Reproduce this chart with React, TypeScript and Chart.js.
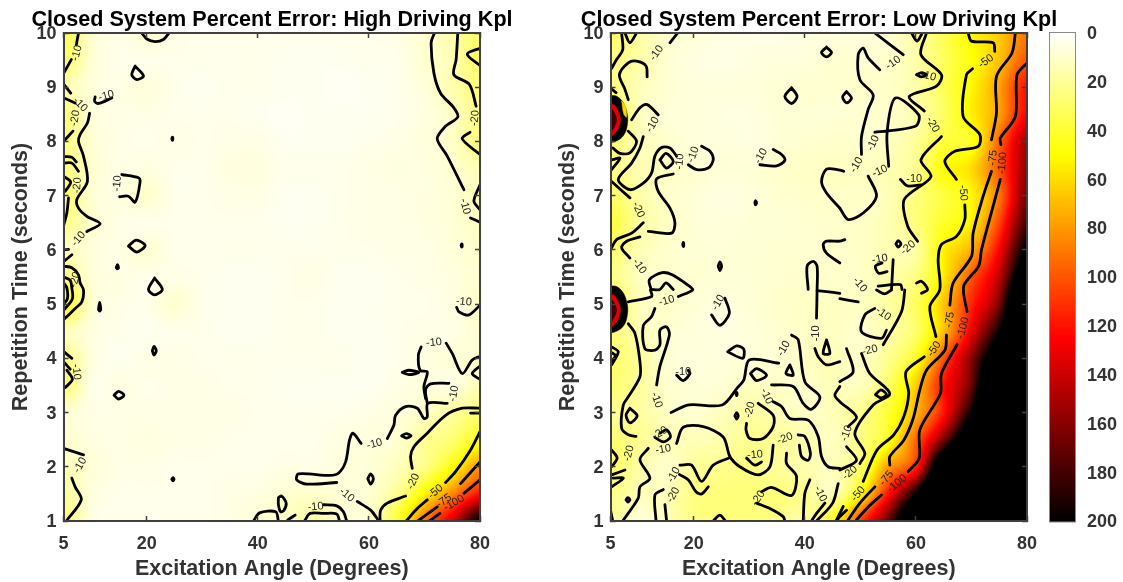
import React, { useEffect, useRef } from "react";
import { Chart, registerables } from "chart.js";
Chart.register(...registerables);

type Path = number[][];

const angleTicks = [5, 20, 40, 60, 80];
const timeTicks = [1, 2, 3, 4, 5, 6, 7, 8, 9, 10];
const barTicks = [0, 20, 40, 60, 80, 100, 120, 140, 160, 180, 200];
const gridAngles = [5, 10, 15, 20, 25, 30, 35, 40, 45, 50, 55, 60, 65, 70, 75, 80];
const gridTimes = [10, 9.5, 9, 8.5, 8, 7.5, 7, 6.5, 6, 5.5, 5, 4.5, 4, 3.5, 3, 2.5, 2, 1.5, 1];

const highGrid = [
  [35, 9, 5, 9, 5, 4, 4, 4, 4, 4, 4, 4, 5, 9, 17, 30],
  [30, 9, 4, 4, 4, 4, 4, 4, 3, 3, 3, 4, 4, 9, 15, 30],
  [16, 7, 5, 7, 4, 3, 4, 4, 3, 3, 2, 3, 4, 7, 16, 26],
  [28, 8, 5, 5, 4, 4, 4, 3, 2, 3, 3, 3, 4, 6, 11, 24],
  [25, 9, 5, 4, 5, 4, 5, 5, 3, 3, 3, 4, 5, 7, 11, 25],
  [25, 10, 5, 6, 4, 4, 6, 6, 4, 4, 4, 5, 6, 6, 9, 14],
  [30, 9, 6, 10, 4, 4, 5, 5, 3, 3, 4, 5, 5, 6, 8, 14],
  [24, 10, 5, 4, 4, 4, 4, 4, 3, 3, 4, 5, 5, 6, 8, 12],
  [14, 7, 5, 9, 4, 4, 4, 4, 4, 4, 4, 4, 5, 5, 7, 10],
  [28, 8, 6, 4, 5, 4, 3, 3, 4, 5, 3, 3, 4, 5, 6, 9],
  [45, 10, 5, 4, 9, 4, 3, 3, 4, 4, 3, 3, 4, 4, 6, 11],
  [14, 6, 4, 3, 4, 4, 3, 3, 4, 4, 3, 3, 4, 5, 5, 9],
  [25, 7, 3, 5, 5, 4, 4, 4, 4, 4, 4, 3, 4, 6, 8, 9],
  [28, 5, 6, 4, 5, 5, 4, 4, 3, 3, 3, 3, 5, 7, 6, 14],
  [9, 5, 5, 5, 5, 5, 5, 4, 4, 4, 4, 5, 7, 11, 19, 28],
  [10, 6, 5, 6, 5, 5, 4, 4, 4, 4, 6, 7, 9, 21, 28, 45],
  [14, 8, 5, 5, 4, 4, 4, 4, 5, 5, 7, 8, 13, 24, 48, 80],
  [20, 7, 4, 4, 4, 4, 5, 6, 9, 10, 8, 9, 22, 52, 85, 120],
  [28, 6, 4, 4, 4, 4, 5, 9, 12, 18, 10, 10, 40, 90, 135, 200],
];

const lowGrid = [
  [30, 18, 10, 8, 6, 5, 5, 6, 7, 7, 9, 18, 33, 52, 65, 90],
  [25, 18, 9, 6, 5, 6, 7, 7, 9, 9, 10, 17, 32, 48, 68, 100],
  [25, 14, 9, 7, 7, 7, 8, 9, 9, 10, 11, 17, 33, 52, 78, 120],
  [40, 14, 8, 7, 6, 6, 8, 8, 8, 9, 10, 16, 31, 54, 78, 125],
  [28, 15, 10, 7, 7, 6, 8, 9, 10, 10, 12, 20, 38, 44, 95, 150],
  [25, 15, 12, 9, 8, 8, 10, 11, 12, 12, 15, 22, 49, 60, 100, 155],
  [30, 18, 10, 8, 6, 7, 9, 10, 11, 11, 14, 25, 38, 52, 90, 165],
  [38, 20, 12, 8, 7, 8, 8, 9, 10, 11, 15, 26, 42, 55, 105, 180],
  [30, 15, 10, 8, 8, 8, 9, 9, 10, 11, 15, 18, 53, 74, 125, 205],
  [25, 12, 10, 9, 8, 8, 9, 10, 10, 11, 17, 25, 55, 100, 145, 240],
  [40, 14, 11, 8, 7, 8, 10, 11, 12, 12, 18, 32, 67, 115, 165, 300],
  [28, 15, 9, 7, 6, 7, 9, 11, 12, 10, 17, 30, 68, 130, 200, 300],
  [30, 20, 9, 7, 7, 8, 9, 12, 14, 11, 22, 44, 100, 160, 240, 300],
  [28, 20, 10, 8, 8, 12, 11, 10, 14, 13, 30, 65, 120, 170, 300, 300],
  [22, 19, 12, 9, 13, 18, 14, 12, 14, 22, 40, 72, 120, 200, 300, 300],
  [28, 22, 15, 14, 16, 22, 20, 16, 12, 24, 45, 95, 165, 250, 300, 300],
  [32, 18, 10, 20, 22, 24, 20, 16, 14, 30, 78, 115, 250, 300, 300, 300],
  [24, 15, 14, 24, 26, 26, 26, 22, 14, 50, 120, 200, 300, 300, 300, 300],
  [22, 8, 14, 24, 26, 26, 24, 18, 45, 105, 170, 260, 300, 300, 300, 300],
];

// contour traces, [excitation angle, repetition time]
const highContours10: Path[] = [
  [[7.7,10],[7.3,9.78]], [[6.4,9.51],[5.1,9.27]],
  [[19.1,10],[20,9.89],[21.5,9.84],[23,9.88],[24,10]],
  [[17.9,9.39],[19.4,9.21],[18.2,9.14],[17.3,9.23],[17.9,9.39]],
  [[5.1,9.05],[6.3,8.89]], [[5.1,8.8],[7.1,8.71]],
  [[10.7,8.82],[10.6,8.74],[11.3,8.7],[13.7,8.8]],
  [[9.7,8.52],[9.3,8.34],[8,8.13],[7.7,8],[8.6,7.73],[9.3,7.26],[7.4,6.93],[7.7,6.77],[9.2,6.62],[11.6,6.48],[9.2,6.34]],
  [[15.5,7.39],[18.5,7.33],[18.8,7.26],[17.9,6.88],[16.7,6.99],[15.1,6.98]],
  [[16.7,6.07],[18.1,6.18],[19.7,6.08],[18.2,5.96],[16.7,6.07]],
  [[21.4,5.48],[22.8,5.27],[21.4,5.17],[20.3,5.27],[21.4,5.48]],
  [[11.3,4.9],[11.5,5.03],[11.7,4.9],[11.5,4.87],[11.3,4.9]],
  [[14.5,5.67],[14.7,5.73],[14.9,5.67],[14.7,5.65],[14.5,5.67]],
  [[24.5,8.05],[24.6,8.08],[24.7,8.05],[24.6,8.02],[24.5,8.05]],
  [[21,4.14],[21.3,4.22],[21.7,4.14],[21.3,4.06],[21,4.14]],
  [[14.1,3.32],[14.9,3.39],[15.9,3.32],[14.9,3.25],[14.1,3.32]],
  [[24.5,1.77],[24.7,1.8],[24.9,1.77],[24.7,1.74],[24.5,1.77]],
  [[5,4.13],[6.5,4]], [[5,2.34],[8.6,2.22]],
  [[6.5,1.79],[7.1,1.63],[8.2,1.39],[5.5,1]],
  [[5.1,5.79],[6.5,5.91]], [[5.1,6],[5.9,6.01]],
  [[39.2,1],[40.3,1.15],[43.2,1.17],[43.7,1]],
  [[43.7,1.43],[44.3,1.46],[45.1,1.33],[44.7,1.2],[44.1,1.17],[43.7,1.3],[43.7,1.43]],
  [[45.4,1.02],[46.7,1.11]],
  [[51.8,1.3],[54.2,1.28],[55.4,1.17],[56,1]],
  [[57.9,1.36],[60.3,1.2],[61.8,1]],
  [[54.2,1.71],[48.8,1.68],[47,1.76],[47.3,1.87],[53,1.84],[54.5,1.88],[55.8,2.09],[56.5,2.49],[57.1,2.62],[58.6,2.43]],
  [[63.3,2.52],[64.5,2.77],[64.8,2.95],[66.6,3.11],[68.7,3.08],[69.9,2.89],[70.5,2.92],[70.6,3.17],[74.1,3.17]],
  [[70.5,3.17],[70.2,3.42],[71.1,3.53],[74.4,3.54]],
  [[69.4,4.21],[68.9,4.06],[69.2,3.78],[70.5,3.75],[69.9,3.48],[70.2,3.26]],
  [[73.9,4.28],[75,4.09],[76.8,3.72],[78.6,3.97],[80,4.04]],
  [[66,3.74],[67.2,3.78],[69,3.74],[67.2,3.7],[66,3.74]],
  [[65.9,2.57],[66.7,2.61],[67.6,2.57],[66.7,2.53],[65.9,2.57]],
  [[59.8,1.78],[60.3,1.87],[60.8,1.78],[60.3,1.68],[59.8,1.78]],
  [[71.8,10],[71.2,9.82],[71.7,9.26],[72.9,8.89],[75.3,8.62],[76,8.45],[73.8,8.28],[72.3,8.05],[74.1,7.73],[77.1,7.11]],
  [[80,7.2],[78.9,6.9],[80,6.74]], [[78.3,6.59],[80,6.51]],
  [[76.6,6.08],[76.7,6.11],[76.8,6.08],[76.7,6.05],[76.6,6.08]],
  [[80,4.98],[78,4.8],[76.2,4.86],[75.8,4.94]],
  [[80,3.86],[78.6,3.72],[80,3.61]], [[78.3,2.99],[80,2.99]],
];
const highContours20: Path[] = [
  [[5,8],[6.7,8.19]],
  [[5,7.72],[6.5,7.71],[7.3,7.62]], [[5,7.6],[6.5,7.6],[7.7,7.45]],
  [[5,7.36],[6.3,7.25],[5.3,7.08]], [[5.9,6.96],[5.6,6.68],[5,6.44]],
  [[5,5.7],[6.5,5.67],[7.7,5.54],[8,5.39],[8.6,5.26],[8.3,5.04],[7.1,4.92],[5,4.71]],
  [[5,5.5],[6.2,5.44],[6.5,5.3],[6.6,5.1],[5,4.88]],
  [[5,5.4],[5.6,5.3],[5.7,5.1],[5,5]],
  [[5.6,3.78],[6.6,3.61],[5.3,3.46]], [[5,3.94],[6.2,3.8]],
  [[76,10],[75.7,9.51],[75.3,9.23],[78.1,9.05],[79.3,8.65]],
  [[80,9.72],[77.7,9.61],[80,9.4]], [[78.2,8.17],[76.8,8.05],[80,7.76]],
  [[80,3.08],[76.8,3.08],[73.8,2.95],[70.5,2.62],[68.1,2.37],[67.5,2.19],[67.8,1.97]],
  [[66.6,1.46],[63.3,1.33],[62.1,1.2],[62,1]],
  [[48.4,1],[49.4,1.14],[51.8,1.14],[54.2,1.13],[54.7,1]],
];
const highContours50: Path[] = [[[66.7,1],[68.7,1.23],[70.5,1.39]], [[73.8,1.71],[75.6,1.91],[78.3,2.31],[80,2.65]]];
const highContours75: Path[] = [[[68.8,1],[72.3,1.26]], [[76.5,1.69],[80,2.09]]];
const highContours100: Path[] = [[[70.9,1],[72.8,1.14]], [[77.1,1.51],[80,1.76]]];

const lowContours10: Path[] = [
  [[7,10],[7.2,9.69],[6.1,9.51],[5.2,9.35]],
  [[7.6,10],[8.5,9.82],[9.7,10]],
  [[17.1,10],[15.7,9.82]],
  [[11.6,9.19],[11.4,9.39],[9.7,9.48],[8.2,9.45],[6.6,9.23],[7.6,8.96],[8.2,8.77]],
  [[5,8.98],[6,8.9]],
  [[8.8,8.4],[10.3,8.62],[11.6,8.68],[13.6,8.49]],
  [[8.2,8.19],[9.7,8],[8.5,7.79],[6.7,7.78],[5.4,7.88]],
  [[5.2,7.66],[6.7,7.69],[5.2,7.48]],
  [[10.9,8.09],[10.3,7.88],[8.8,7.6],[6.4,7.3],[8.5,7.11],[10.9,7.23],[12.4,7.42],[13,7.73],[14.2,7.89],[15.7,7.88],[16.9,7.73]],
  [[8.5,5.85],[7,6.04],[7.9,6.16],[10.3,6.24]],
  [[18,6.1],[18.1,6.14],[18.2,6.1],[18.1,6.06],[18,6.1]],
  [[24.4,5.7],[24.7,5.78],[25,5.7],[24.7,5.62],[24.4,5.7]],
  [[31,6.87],[31.1,6.91],[31.3,6.87],[31.1,6.83],[31,6.87]],
  [[21.4,7.91],[22.9,7.82],[23.5,7.66],[22.6,7.51],[20.5,7.48],[19,7.57]],
  [[34.3,7.85],[35.8,7.76],[36.4,7.65],[34.9,7.55],[31.9,7.57]],
  [[37.6,8.99],[38.6,8.83],[37.6,8.7],[36.4,8.83],[37.6,8.99]],
  [[43.9,9.74],[44.8,9.64],[43.9,9.56],[43,9.64],[43.9,9.74]],
  [[46.3,6.77],[43.9,7.05],[43,7.26],[43.9,7.49],[46.3,7.47],[47,7.45]],
  [[46.3,5.76],[43.9,5.94],[43.3,6.1],[43.9,6.16],[46.3,6.16],[47.2,6.19]],
  [[40.6,5.27],[40.4,5.7],[41.5,5.79],[42.2,5.7],[42.2,5.27],[42.1,4.74]],
  [[12.3,5.27],[12,5.45],[14.3,5.58],[16.1,5.54],[19.2,5.33],[19.8,5.26],[17.2,5.14]],
  [[8.2,5.04],[12.4,5.14],[12.2,5.26]],
  [[13,4.92],[12.4,4.77],[10.9,4.6],[11.2,4.18],[13,4.15],[13.9,4.25],[13.9,4.52],[15.1,4.58],[15.6,4.43],[13.9,3.85],[13.3,3.51]],
  [[15.9,3],[19.1,3.14],[25.1,3.14],[27.8,3.45],[29,3.6],[30,3.97],[35.3,3.91]],
  [[26.1,4.12],[27.7,4.23],[29,4.17],[28.8,4],[26.1,4.12]],
  [[27.6,3.34],[27.7,3.37],[27.8,3.34],[27.7,3.31],[27.6,3.34]],
  [[27.4,2.94],[27.7,3],[28,2.94],[27.7,2.88],[27.4,2.94]],
  [[37.6,4.43],[38.8,4.34],[40,3.57],[42.7,3.29],[41.2,3.06],[39.7,3.17],[37.9,3.48],[34,3.51]],
  [[34.3,3.2],[35.8,3.11],[37.3,2.89],[40.6,2.86],[42.4,2.56],[43,2.19],[44.2,2],[46.3,1.97]],
  [[16.9,3.69],[18.1,3.59],[19.3,3.72],[19,3.78]],
  [[23.2,4.8],[24.7,4.61],[26.4,4.83],[25.6,5.11]],
  [[29.5,2.16],[31,2.03],[32.2,2.09]],
  [[7.2,1],[10,1.42],[10.3,1.63],[12.1,1.79],[10.3,2.13],[11.8,2.34]],
  [[17.4,1.86],[19,1.76],[20.4,1.54],[21.4,1.5],[22.6,1.63]],
  [[40.9,1.76],[40,1.51],[39.7,1]],
  [[43.6,1.33],[42.1,1.14],[41.2,1]],
  [[41.8,4.18],[42.4,4.03],[43.9,3.88],[46.3,3.94]],
  [[43.9,4.34],[44.5,4.09],[43.3,4.09],[43.9,4.34]],
  [[46.3,3.48],[45.4,3.32],[46.3,3.2],[49.3,2.92],[47.8,2.74]],
  [[42.2,5.25],[43.9,5.23],[46.3,5.2]],
  [[52.6,10],[57.7,9.6]],
  [[59.2,10],[60.2,9.85],[61,9.97]],
  [[53.5,9.32],[51.4,9.54],[50.5,9.72],[49.6,9.6],[49.9,9.14],[52.3,8.86],[51.4,8.59],[50.2,8.09],[50.2,7.76]],
  [[47.5,8.92],[48.4,8.8],[47.5,8.71],[46.8,8.82],[47.5,8.92]],
  [[51.4,7.36],[52.9,6.99],[50.5,6.68],[47.8,6.56],[46.3,6.77]],
  [[52.6,8.17],[59.9,8.28],[60.5,8.49],[56.3,8.8],[54.8,8.16],[55.1,7.54]],
  [[60.1,9.23],[61,9.27],[61.9,9.23],[61,9.19],[60.1,9.23]],
  [[57.2,7.3],[58.5,7.18],[60.9,7.2]],
  [[56.4,6.11],[56.8,6.17],[57.3,6.11],[56.8,6.05],[56.4,6.11]],
  [[53.9,5.76],[52.7,5.7],[53.3,5.57],[54.8,5.6]],
  [[53.2,5.33],[57.2,5.36],[57.5,5.27]],
  [[52.9,5.26],[54.4,5.19],[55.6,5.26]],
  [[60.1,5.39],[61,5.42],[62.1,5.27],[61,5.2]],
  [[52.6,4.92],[50.8,4.8],[50.2,4.49],[53.8,4.37],[54.7,4.52]],
  [[47.5,4.18],[48.7,3.75],[46.3,3.57]],
  [[47.5,2.37],[49.3,2.12],[46.3,1.94]],
  [[46.3,5.1],[49.6,5.04]],
  [[30.2,3.72],[31.3,3.81],[33.1,3.69],[31.3,3.59],[30.2,3.72]],
  [[37.3,3.88],[37.9,3.69],[36.6,3.72],[37.3,3.88]],
  [[23.5,1],[24.7,1.11],[25.7,1]],
];
const lowContours20: Path[] = [
  [[16.3,7.4],[13.3,7.31],[13.6,7.08],[15.7,6.77],[16.6,6.5],[16,6.31],[11.8,6.34]],
  [[10.9,6.5],[8.8,6.31],[6.1,6.19],[5.2,6.04]],
  [[5.2,7.26],[8.5,6.96]],
  [[13.9,7.66],[15,7.78],[16.3,7.63],[15.1,7.51],[13.9,7.66]],
  [[12.3,5.27],[13.9,5.27],[15,5.39],[16.3,5.27]],
  [[31.6,3.17],[34.3,2.95],[34.3,2.74],[32.5,2.52],[30.1,2.52],[29.4,2.68],[29.5,2.8]],
  [[38.8,2.59],[40,2.56],[41,2.25],[40.6,2.12],[39.4,2.19],[39,2.4]],
  [[34.3,2.4],[33.7,2],[31.6,1.85],[28.3,2],[26.5,2.19],[25.3,2.55],[21.7,2.74],[18.1,2.73],[16.9,2.43]],
  [[26.5,2.17],[23.5,2.03],[21.4,1.73],[19.6,2.03],[17.5,2.03]],
  [[14.8,1.3],[15.1,1]],
  [[14.5,1.58],[13,1.48],[13.2,1]],
  [[9.6,2.56],[8.2,2.59],[7,2.71],[7.3,3.14],[8.2,3.29],[10.3,3.66],[10.3,3.94],[9.4,4.46],[8.2,4.64]],
  [[8.5,3.08],[9.8,2.94],[8.5,2.81],[7.8,2.95],[8.5,3.08]],
  [[13,2.54],[14.5,2.46],[15.8,2.55],[15.1,2.68],[13.9,2.62]],
  [[5.2,4.21],[6.4,4.12],[5.2,3.88]], [[5.3,4.1],[5.9,4.05],[5.3,3.95]],
  [[5.2,2.31],[6.2,2.16],[5.2,2]], [[5.2,1.85],[7.6,1.94]],
  [[5.2,1.63],[7.3,1.79],[5.5,1.79]], [[5,1.2],[5.4,1]],
  [[7.8,1.39],[8.1,1.43],[8.5,1.39],[8.1,1.35],[7.8,1.39]],
  [[31.3,1.33],[33.7,1.23],[36.1,1.08],[36.4,1]],
  [[32.2,1.54],[34,1.62],[37.6,1.47],[38.5,1.82],[36.7,2.06],[36.7,2.25]],
  [[46,1.69],[45,1.33],[42.1,1]],
  [[61.9,10],[60.9,9.6],[64.6,9.23],[63.7,9.02],[58.8,8.83],[61.5,8.56]],
  [[64.6,8.09],[60.9,7.66],[62.7,7.35],[57.9,6.93],[58.5,6.44],[60.3,6.16]],
  [[55.9,5.82],[55.6,5.27]],
  [[58,5.26],[57.4,4.86],[54.1,4.25]],
  [[50.2,4.09],[51.7,3.72],[55.3,3.35],[52.3,3.14],[49,2.62],[50.8,2.25],[49.9,2.06]],
  [[46.9,1.27],[46.3,1.14],[45.6,1]],
  [[52.7,3.33],[53.7,3.42],[54.7,3.33],[53.7,3.27],[52.7,3.33]],
];
const lowContours50: Path[] = [
  [[69.4,10],[70,9.85],[73.9,9.82],[74.2,9.66]],
  [[70.2,9.34],[69.1,9.23],[68.5,8.46],[71.5,8.13],[71.2,7.91],[67,7.82],[65.2,7.63],[67.3,7.3]],
  [[68.8,6.83],[68.8,6.56],[67.3,6.25],[64.6,6.1],[64,5.82],[64.3,5.27],[62.5,4.95],[63.6,4.4]],
  [[61.5,4.03],[58.2,3.75],[58.7,3.35],[57.8,2.92],[56,2.59],[53,2.31],[50.5,1.73]],
  [[47.5,1.2],[46.3,1.08],[45.7,1]],
];
const lowContours75: Path[] = [
  [[77.9,10],[77.3,9.63],[74.5,9.2],[74.5,8.52],[73.6,8.03]],
  [[73.6,7.45],[72.1,6.99],[70.3,6.31],[70,5.88],[66.7,5.39],[66.1,4.98]],
  [[65.5,4.43],[65.2,4.15],[61.9,3.78],[60.7,3.42],[59.5,2.89],[57.8,2.49],[55.3,2.19],[55.3,2.03]],
  [[52.6,1.63],[49.9,1.33],[47.8,1.02]],
];
const lowContours100: Path[] = [
  [[80,9.45],[78.2,9.23],[77.9,8.46],[75.2,8.06],[75.3,7.94]],
  [[75.2,7.3],[73.4,6.62],[71.8,6],[71.3,5.7],[68.6,5.33],[69.2,4.86]],
  [[67.4,4.25],[64.6,3.72],[64.4,3.35],[60.7,2.68],[60.6,2.16],[58.6,1.91]],
  [[53.8,1.48],[51.4,1.26],[49.3,1.02]],
];

// the two spikes at the left edge of the low driving panel
const spikeBlack: Path[] = [
  [[5,8.85],[6.2,8.83],[7.4,8.7],[8.1,8.45],[7.8,8.2],[6.8,8.05],[5,8]],
  [[5,5.34],[6.2,5.32],[7.4,5.19],[8.1,4.94],[7.8,4.69],[6.8,4.54],[5,4.49]],
];
const spikeRed: Path[] = [
  [[5,8.7],[5.9,8.65],[6.8,8.42],[6.2,8.2],[5,8.1]],
  [[5,5.19],[5.9,5.14],[6.8,4.91],[6.2,4.69],[5,4.59]],
];
const spikeCore: Path[] = [
  [[5,8.62],[5.6,8.55],[6.1,8.4],[5.6,8.25],[5,8.18]],
  [[5,5.11],[5.6,5.04],[6.1,4.89],[5.6,4.74],[5,4.67]],
];
const spikeYellow: Path[] = [
  [[7,8.75],[7.7,8.65],[7.9,8.45],[7.4,8.5],[7,8.75]],
];

// [angle, time, text, turn in degrees]
const highLabels: [number, number, string, number][] = [
  [7.4,9.63,"-10",-75],[8,8.68,"-10",45],[12.7,8.84,"-10",-15],[7.1,8.43,"-20",-80],[7.5,7.19,"-20",-85],
  [14.7,7.23,"-10",-85],[7.7,6.2,"-10",-50],[7.1,5.45,"-20",-75],[7.3,3.75,"-10",85],[8,2.03,"-10",-60],
  [50.4,1.26,"-10",-5],[56,1.48,"-10",40],[61,2.42,"-10",-15],[68,1.73,"-20",-65],[72,1.54,"-50",-40],
  [73.5,1.37,"-75",-35],[75.3,1.33,"-100",-30],[75.3,3.35,"-10",-80],[71.7,4.29,"-10",-5],[77.1,5.04,"-10",5],
  [79.1,8.43,"-20",-85],[77.3,6.8,"-10",75],
];
const lowLabels: [number, number, string, number][] = [
  [13.3,9.63,"-10",-55],[12.6,8.31,"-10",-60],[17.5,7.63,"-10",-85],[19.9,7.76,"-10",-70],[32.1,7.73,"-10",-60],
  [10,6.74,"-20",65],[10.2,5.7,"-10",55],[15.1,5.06,"-10",-15],[24.4,5.03,"-10",-60],[42,4.46,"-10",-90],
  [36.2,4.18,"-10",-60],[13.3,3.23,"-10",70],[18.1,3.75,"-10",0],[33.1,3.3,"-10",65],[30.1,3.05,"-20",-75],
  [36.4,2.52,"-20",-20],[13.9,2.62,"-20",-30],[14.5,2.32,"-10",-10],[8.3,2.25,"-20",-75],[16.4,1.85,"-10",-60],
  [16.3,1.48,"-20",-60],[31,2.22,"-10",-5],[31.6,1.42,"-20",-55],[42.8,1.5,"-10",65],[55.9,9.45,"-10",-35],
  [52.3,7.97,"-10",-65],[49.3,7.57,"-10",-60],[53.5,7.45,"-10",-25],[62.2,9.21,"-10",15],[63,8.31,"-20",60],
  [72.6,9.48,"-50",-35],[73.9,7.7,"-75",-85],[75.6,7.6,"-100",-85],[59.7,7.3,"-10",0],[68.5,7.05,"-50",85],
  [58.6,6.04,"-20",-40],[53.5,5.83,"-10",-10],[49.9,5.36,"-10",50],[54.1,4.82,"-10",35],[63.3,4.17,"-50",-55],
  [66.1,4.71,"-75",-80],[68.5,4.56,"-100",-75],[51.7,4.15,"-20",-15],[47.5,2.62,"-10",-70],[48.1,1.89,"-20",-40],
  [49.6,1.5,"-50",-50],[54.7,1.79,"-75",-50],[56.6,1.69,"-100",-40],
];

const FONT = "'Liberation Sans', Arial, sans-serif";
const INK = "#333333";

function hot(value: number): [number, number, number] {
  const t = 1 - Math.min(200, Math.max(0, value)) / 200;
  const c = (v: number) => Math.max(0, Math.min(1, v));
  return [c(t / 0.375) * 255, c((t - 0.375) / 0.375) * 255, c((t - 0.75) / 0.25) * 255];
}

function cubic(a: number, b: number, c: number, d: number, t: number) {
  return b + 0.5 * t * (c - a + t * (2 * a - 5 * b + 4 * c - d + t * (3 * (b - c) + d - a)));
}

function sample(grid: number[][], angle: number, time: number) {
  const fx = (angle - gridAngles[0]) / (gridAngles[1] - gridAngles[0]);
  const fy = (gridTimes[0] - time) / (gridTimes[0] - gridTimes[1]);
  const ix = Math.min(gridAngles.length - 2, Math.max(0, Math.floor(fx)));
  const iy = Math.min(gridTimes.length - 2, Math.max(0, Math.floor(fy)));
  const cell = (r: number, k: number) =>
    grid[Math.max(0, Math.min(gridTimes.length - 1, r))][Math.max(0, Math.min(gridAngles.length - 1, k))];
  const row = (r: number) => cubic(cell(r, ix - 1), cell(r, ix), cell(r, ix + 1), cell(r, ix + 2), fx - ix);
  return cubic(row(iy - 1), row(iy), row(iy + 1), row(iy + 2), fy - iy);
}

const heatPlugin = {
  id: "heat",
  beforeDatasetsDraw(chart: any, _a: any, opts: any) {
    const { left, top, right, bottom } = chart.chartArea;
    const w = Math.round(right - left);
    const h = Math.round(bottom - top);
    if (!chart.$heat) {
      const off = document.createElement("canvas");
      off.width = w;
      off.height = h;
      const c = off.getContext("2d")!;
      const img = c.createImageData(w, h);
      for (let j = 0; j < h; j++) {
        for (let i = 0; i < w; i++) {
          const v = sample(opts.grid, chart.scales.x.getValueForPixel(left + i + 0.5), chart.scales.y.getValueForPixel(top + j + 0.5));
          const [r, g, b] = hot(v);
          const p = (j * w + i) * 4;
          img.data[p] = r;
          img.data[p + 1] = g;
          img.data[p + 2] = b;
          img.data[p + 3] = 255;
        }
      }
      c.putImageData(img, 0, 0);
      chart.$heat = off;
    }
    chart.ctx.drawImage(chart.$heat, left, top);
  },
};

const labelPlugin = {
  id: "contourLabels",
  afterDatasetsDraw(chart: any, _a: any, opts: any) {
    const ctx = chart.ctx;
    ctx.save();
    ctx.font = `11px ${FONT}`;
    ctx.fillStyle = "#222222";
    ctx.textAlign = "center";
    ctx.textBaseline = "middle";
    for (const [a, t, text, turn] of opts.items) {
      ctx.save();
      ctx.translate(chart.scales.x.getPixelForValue(a), chart.scales.y.getPixelForValue(t));
      ctx.rotate((turn * Math.PI) / 180);
      ctx.fillText(text, 0, 0);
      ctx.restore();
    }
    ctx.restore();
  },
};

const barPlugin = {
  id: "colorBar",
  beforeDatasetsDraw(chart: any) {
    const { left, right, top, bottom } = chart.chartArea;
    const y = chart.scales.y;
    const ctx = chart.ctx;
    for (let v = 0; v < 200; v += 1) {
      const [r, g, b] = hot(v + 0.5);
      ctx.fillStyle = `rgb(${r},${g},${b})`;
      const y0 = Math.floor(y.getPixelForValue(v));
      const y1 = Math.ceil(y.getPixelForValue(v + 1));
      ctx.fillRect(left, y0, right - left, y1 - y0);
    }
    ctx.strokeStyle = "#8a8a8a";
    ctx.lineWidth = 1;
    ctx.strokeRect(left - 0.5, top - 0.5, right - left + 1, bottom - top + 1);
  },
};

const lineSet = (path: Path, order: number) => ({
  type: "scatter",
  data: path.map(([x, y]) => ({ x, y })),
  showLine: true,
  borderColor: "#000000",
  borderWidth: 2.8,
  borderCapStyle: "round",
  borderJoinStyle: "round",
  tension: 0.3,
  pointRadius: 0,
  order,
});

const fillSet = (path: Path, color: string, order: number) => ({
  type: "scatter",
  data: [...path, path[0]].map(([x, y]) => ({ x, y })),
  showLine: true,
  borderColor: color,
  borderWidth: 0.5,
  backgroundColor: color,
  fill: "shape",
  tension: 0.3,
  pointRadius: 0,
  order,
});

function tickSet(values: number[]) {
  return (scale: any) => {
    scale.ticks = values.map((value) => ({ value }));
  };
}

function makePanel(canvas: HTMLCanvasElement, title: string, grid: number[][], contours: Path[][], labels: any[], fills: any[]) {
  const frame = {
    display: true,
    drawOnChartArea: false,
    drawTicks: true,
    tickLength: -5,
    tickColor: "#404040",
    tickWidth: 1.5,
    z: 1,
  };
  const border = { display: true, color: "#404040", width: 2, z: 1 };
  const tickFont = { family: FONT, size: 18, weight: "bold" };
  const titleFont = { family: FONT, size: 21.5, weight: "bold" };
  return new Chart(canvas, {
    type: "scatter",
    data: { datasets: [...fills, ...contours.flat().map((p) => lineSet(p, 1))] as any },
    plugins: [heatPlugin, labelPlugin],
    options: {
      animation: false,
      responsive: false,
      maintainAspectRatio: false,
      layout: { padding: 0 },
      scales: {
        x: {
          type: "linear", position: "bottom", min: 5, max: 80,
          afterBuildTicks: tickSet(angleTicks),
          afterFit: (s: any) => { s.height = 61; },
          grid: frame, border,
          ticks: { autoSkip: false, maxRotation: 0, color: INK, font: tickFont, padding: 17 },
          title: { display: true, text: "Excitation Angle (Degrees)", color: INK, font: titleFont, padding: { top: 1, bottom: 0 } },
        },
        y: {
          type: "linear", position: "left", min: 1, max: 10,
          afterBuildTicks: tickSet(timeTicks),
          afterFit: (s: any) => { s.width = 63.5; },
          grid: frame, border,
          ticks: { autoSkip: false, color: INK, font: tickFont, padding: 12, labelOffset: 1 },
          title: { display: true, text: "Repetition Time (seconds)", color: INK, font: titleFont, padding: { top: 8, bottom: 0 } },
        },
        xTop: {
          type: "linear", position: "top", min: 5, max: 80,
          afterBuildTicks: tickSet(angleTicks),
          afterFit: (s: any) => { s.height = 0; },
          grid: frame, border,
          ticks: { display: false },
        },
        yRight: {
          type: "linear", position: "right", min: 1, max: 10,
          afterBuildTicks: tickSet(timeTicks),
          afterFit: (s: any) => { s.width = 64; },
          grid: frame, border,
          ticks: { display: false },
        },
      },
      plugins: {
        legend: { display: false },
        tooltip: { enabled: false },
        title: {
          display: true,
          text: title,
          color: "#000000",
          font: { family: FONT, size: 21.6, weight: "bold", lineHeight: 1.2 },
          padding: { top: 7.08, bottom: 0 },
        },
        heat: { grid },
        contourLabels: { items: labels },
      },
    } as any,
  });
}

function makeBar(canvas: HTMLCanvasElement) {
  return new Chart(canvas, {
    type: "scatter",
    data: { datasets: [] },
    plugins: [barPlugin],
    options: {
      animation: false,
      responsive: false,
      maintainAspectRatio: false,
      layout: { padding: { top: 33, left: 10, right: 0, bottom: 60.5 } },
      scales: {
        x: { display: false, min: 0, max: 1 },
        y: {
          type: "linear", position: "right", min: 0, max: 200, reverse: true,
          afterBuildTicks: tickSet(barTicks),
          afterFit: (s: any) => { s.width = 48; },
          grid: { display: false, drawTicks: false },
          border: { display: false },
          ticks: { autoSkip: false, color: INK, font: { family: FONT, size: 18, weight: "bold" }, padding: 12, labelOffset: 1 },
        },
      },
      plugins: { legend: { display: false }, tooltip: { enabled: false } },
    } as any,
  });
}

export default function App() {
  const a = useRef<HTMLCanvasElement>(null);
  const b = useRef<HTMLCanvasElement>(null);
  const c = useRef<HTMLCanvasElement>(null);
  useEffect(() => {
    const lowFills = [
      fillSet(spikeYellow[0], "#ffd400", 2),
      ...spikeCore.map((p) => fillSet(p, "#3a0000", 3)),
      ...spikeRed.map((p) => fillSet(p, "#e00000", 4)),
      ...spikeBlack.map((p) => fillSet(p, "#000000", 5)),
    ];
    const charts = [
      makePanel(a.current!, "Closed System Percent Error: High Driving Kpl", highGrid,
        [highContours10, highContours20, highContours50, highContours75, highContours100], highLabels, []),
      makePanel(b.current!, "Closed System Percent Error: Low Driving Kpl", lowGrid,
        [lowContours10, lowContours20, lowContours50, lowContours75, lowContours100], lowLabels, lowFills),
      makeBar(c.current!),
    ];
    return () => charts.forEach((ch) => ch.destroy());
  }, []);
  const base: React.CSSProperties = { position: "absolute", top: 0, filter: "blur(0.35px)" };
  return (
    <div style={{ position: "fixed", left: 0, top: 0, width: 1123, height: 582, background: "#fff", overflow: "hidden" }}>
      <canvas ref={a} width={544} height={582} style={{ ...base, left: 0 }} />
      <canvas ref={b} width={544} height={582} style={{ ...base, left: 547 }} />
      <canvas ref={c} width={83} height={582} style={{ ...base, left: 1040 }} />
    </div>
  );
}
